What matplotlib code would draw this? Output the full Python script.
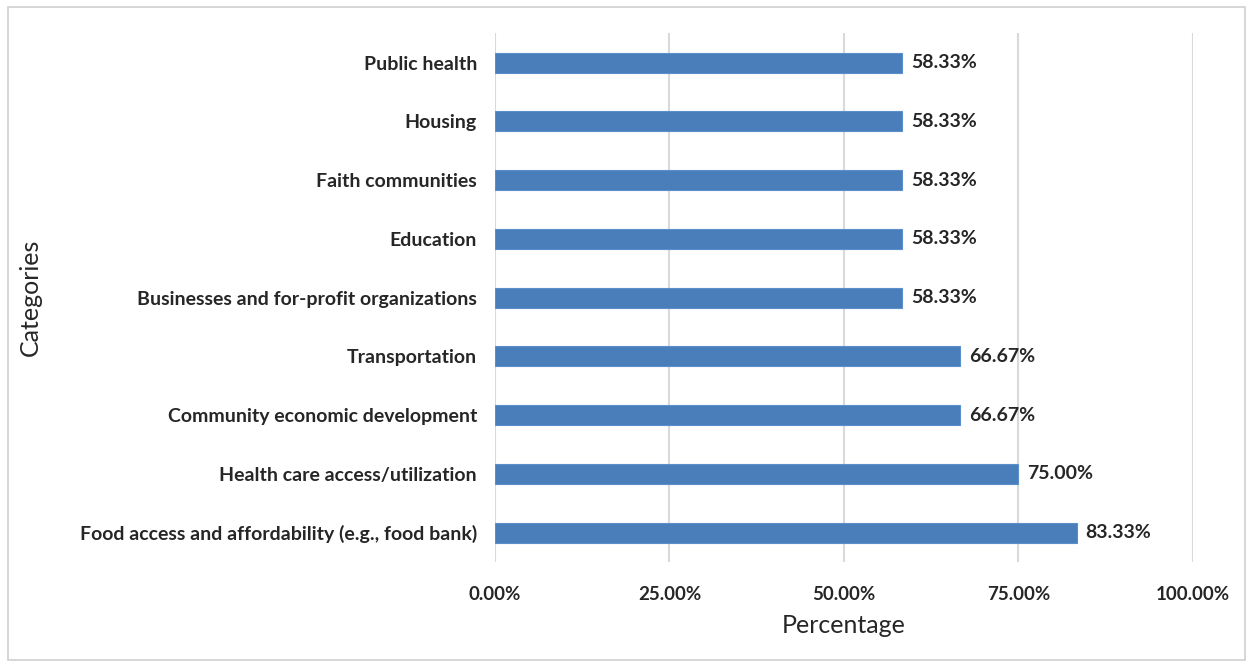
import matplotlib.pyplot as plt
from matplotlib.patches import Rectangle
from matplotlib.ticker import PercentFormatter

plt.rcParams['font.family'] = ['Lato', 'DejaVu Sans']

# 数据（从下到上）
categories = [
    'Food access and affordability (e.g., food bank)',
    'Health care access/utilization',
    'Community economic development',
    'Transportation',
    'Businesses and for-profit organizations',
    'Education',
    'Faith communities',
    'Housing',
    'Public health',
]
values = [83.33, 75.00, 66.67, 66.67, 58.33, 58.33, 58.33, 58.33, 58.33]
x_ticks = [0, 25, 50, 75, 100]

fig = plt.figure(figsize=(12.53, 6.66), dpi=100)
ax = fig.add_axes([0.395, 0.156, 0.557, 0.794])

# 外框
fig.patches.append(Rectangle((0.006, 0.009), 0.988, 0.981, transform=fig.transFigure,
                             fill=False, edgecolor='#d0d0d0', linewidth=1.2))

ypos = range(len(categories))
bars = ax.barh(ypos, values, height=0.34, color='#4a7ebb', edgecolor='#5b8fcc',
               linewidth=0.8, zorder=3)

for y, v in zip(ypos, values):
    ax.text(v + 1.3, y, f'{v:.2f}%', va='center', ha='left',
            fontsize=14, fontweight='bold', color='#262626')

ax.set_xlim(0, 100)
ax.set_ylim(-0.5, len(categories) - 0.5)
ax.set_xticks(x_ticks)
ax.xaxis.set_major_formatter(PercentFormatter(decimals=2))
ax.set_yticks(list(ypos))
ax.set_yticklabels(categories)
ax.grid(axis='x', color='#d9d9d9', linewidth=1.5, zorder=0)
for s in ax.spines.values():
    s.set_visible(False)
ax.tick_params(axis='both', length=0, labelcolor='#262626')
ax.tick_params(axis='x', pad=17, labelsize=13.5)
ax.tick_params(axis='y', pad=13, labelsize=14)
for lab in ax.get_xticklabels() + ax.get_yticklabels():
    lab.set_fontweight('bold')

ax.set_xlabel('Percentage', fontsize=18, color='#262626', labelpad=8)
fig.text(0.024, 0.554, 'Categories', rotation=90, va='center', ha='center',
         fontsize=18, color='#262626')

fig.savefig('out.png', dpi=100, facecolor='white')
